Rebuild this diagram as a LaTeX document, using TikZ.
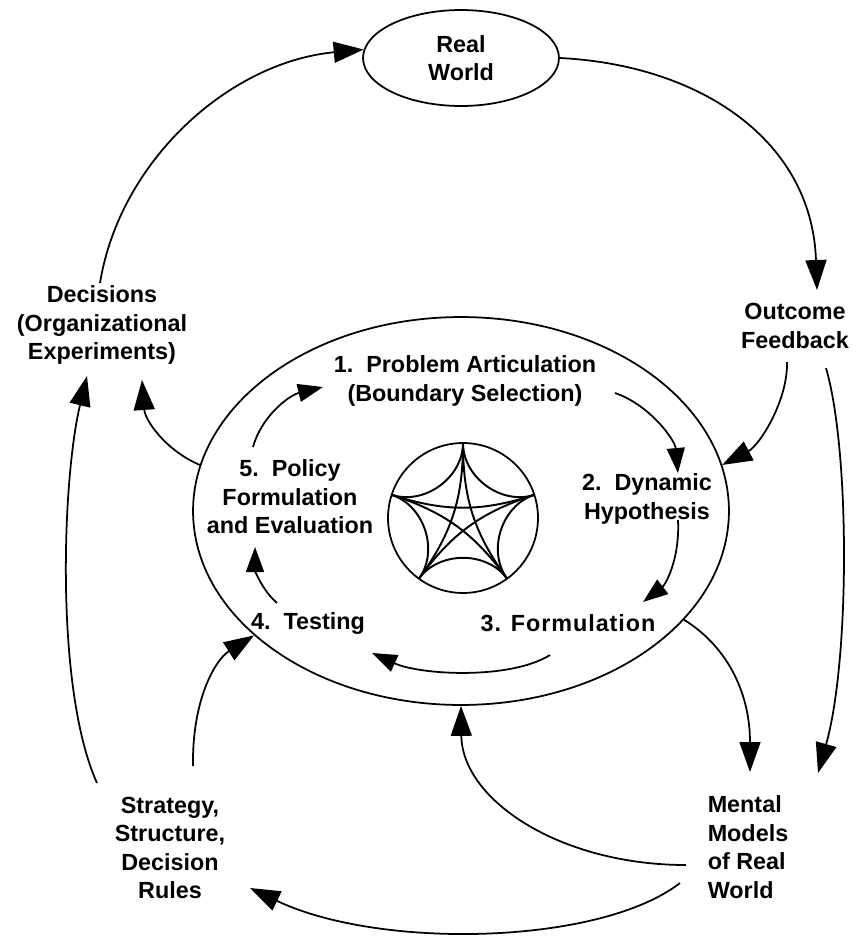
\documentclass[tikz,border=0pt]{standalone}
\usepackage{fontspec}
\setmainfont{Liberation Sans}
\usetikzlibrary{positioning,calc,arrows.meta,shapes.geometric}

\begin{document}
\begin{tikzpicture}[x=0.02cm, y=-0.02cm,
  font=\fontsize{13.3}{16.2}\selectfont\bfseries,
  txt/.style={align=center, inner sep=0pt},
  flow/.style={-{Triangle[length=0.6cm,width=0.42cm]}, line width=1pt},
  inflow/.style={-{Triangle[length=0.5cm,width=0.36cm]}, line width=1pt}]
    \useasboundingbox (0,0) rectangle (856,938);
    %
    \node[draw, ellipse, line width=1pt, minimum width=3.92cm, minimum height=1.92cm, align=center] (rw) at (461,58) {Real\\World};
    \node[draw, ellipse, line width=1pt, minimum width=10.72cm, minimum height=7.76cm] (cyc) at (461,511) {};
    \node[txt] (dec) at (102,325) {Decisions\\(Organizational\\Experiments)};
    \node[txt] (outc) at (795,326) {Outcome\\Feedback};
    \node[txt] (strat) at (170,848) {Strategy,\\Structure,\\Decision\\Rules};
    \node[txt, align=left] (mm) at (748,847) {Mental\\Models\\of Real\\World};
    %
    \node[txt] (art) at (465,381) {1.\ \ Problem Articulation\\(Boundary Selection)};
    \node[txt] (dyn) at (647,499) {2.\ \ Dynamic\\Hypothesis};
    \node[txt] (form) at (568,623) {\addfontfeature{LetterSpace=4}3. Formulation};
    \node[txt] (test) at (308,623) {4.\ \ Testing};
    \node[txt] (pol) at (290,497) {5.\ \ Policy\\Formulation\\and Evaluation};
    %
    \coordinate (hub) at (463,518);
    \draw[line width=1pt] (hub) circle[radius=1.5cm];
    \foreach \i in {0,...,4}
      \coordinate (v\i) at ($(hub)+({75*cos(90+72*\i)},{-75*sin(90+72*\i)})$);
    \foreach \i in {0,...,4}{
      \pgfmathtruncatemacro\j{mod(\i+1,5)}
      \pgfmathtruncatemacro\k{mod(\i+2,5)}
      \draw[line width=1.1pt] (v\i) to[bend left=54] (v\j);
      \draw[line width=1.1pt] (v\i) to[bend left=18] (v\k);
    }
    %
    \draw[flow] (rw.east) .. controls (700,65) and (812,140) .. ($(outc)+(22,-36)$);
    \draw[flow] ($(dec)+(-2,-42)$) .. controls (120,160) and (230,62) .. (rw.175);
    \draw[flow] ($(outc)+(-8,36)$) .. controls (788,400) and (760,445) .. (cyc.10);
    \draw[flow] ($(outc)+(31,42)$) .. controls (850,450) and (850,660) .. ($(mm)+(70,-74)$);
    \draw[flow] (cyc.-26) .. controls (725,645) and (750,690) .. ($(mm)+(2,-75)$);
    \draw[flow] ($(mm)+(-62,18)$) .. controls (560,865) and (462,800) .. (cyc.south);
    \draw[flow] ($(mm)+(-68,36)$) .. controls (600,945) and (380,950) .. ($(strat)+(80,40)$);
    \draw[flow] ($(strat)+(23,-82)$) .. controls (192,700) and (215,660) .. (cyc.211);
    \draw[flow] ($(strat)+(-73,-65)$) .. controls (55,690) and (62,480) .. ($(dec)+(-15,51)$);
    \draw[flow] (cyc.170) .. controls (165,450) and (145,420) .. ($(dec)+(40,55)$);
    %
    \draw[inflow] ($(art)+(150,12)$) .. controls (650,405) and (675,440) .. ($(dyn)+(31,-26)$);
    \draw[inflow] ($(dyn)+(31,21)$) .. controls (680,560) and (665,585) .. ($(form)+(75,-21)$);
    \draw[inflow] ($(form)+(-18,32)$) .. controls (510,680) and (420,675) .. ($(test)+(64,30)$);
    \draw[inflow] ($(test)+(-31,-20)$) .. controls (262,590) and (255,570) .. ($(pol)+(-35,50)$);
    \draw[inflow] ($(pol)+(-37,-50)$) .. controls (262,415) and (290,395) .. ($(art)+(-142,6)$);
\end{tikzpicture}
\end{document}
